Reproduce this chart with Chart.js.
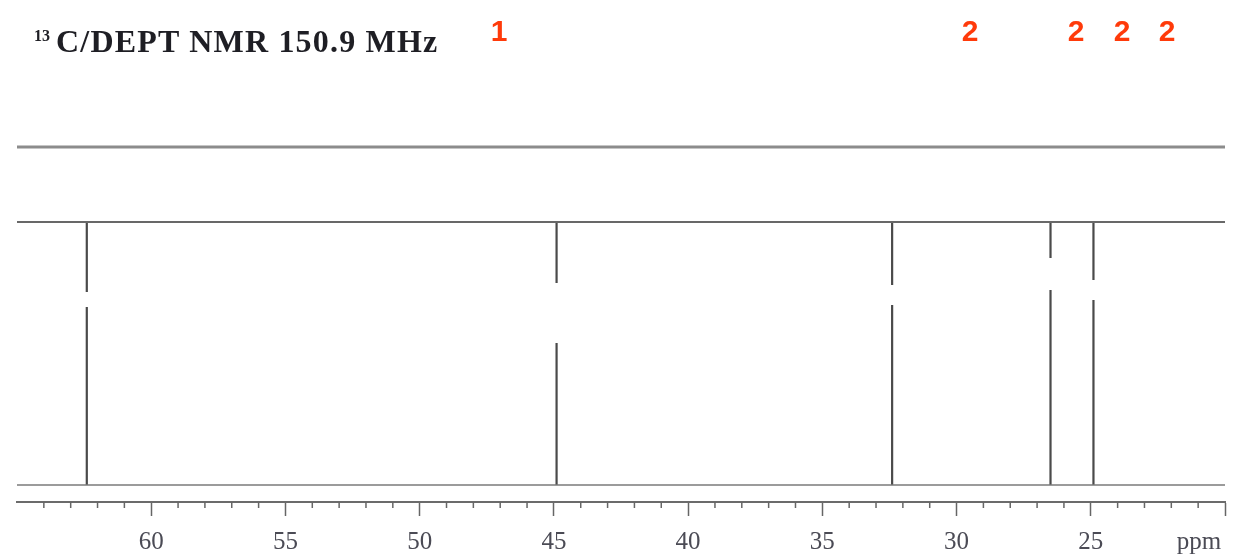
<!DOCTYPE html>
<html>
<head>
<meta charset="utf-8">
<title>13C/DEPT NMR 150.9 MHz</title>
<script src="https://cdn.jsdelivr.net/npm/chart.js@4"></script>
<style>
    html, body { margin: 0; padding: 0; background: #fff; }
    #wrap { position: relative; width: 1236px; height: 560px; overflow: hidden; }
    #nmr-chart { position: absolute; left: 0; top: 0; }
    .title {
        position: absolute; left: 34px; top: 25px;
        font-family: "Liberation Serif", "Times New Roman", serif;
        font-weight: bold; font-size: 32px; line-height: 32px;
        letter-spacing: 1.2px; color: #1e1e24; white-space: nowrap;
    }
    .title sup { font-size: 16px; vertical-align: 11px; line-height: 0; margin-right: 6px; letter-spacing: 0; }
    .count {
        position: absolute; top: 16px; width: 40px; text-align: center;
        font-family: "Liberation Sans", Arial, sans-serif;
        font-weight: bold; font-size: 30px; line-height: 30px; color: #ff3a0a;
    }
</style>
</head>
<body>
<div id="wrap">
    <canvas id="nmr-chart" width="1236" height="560"></canvas>
    <div class="title"><sup>13</sup>C/DEPT NMR 150.9 MHz</div>
</div>
<script>
// ppm window (axis runs high -> low)
const ppmMin = 20;
const ppmMax = 65;
const tickLabels = ['60', '55', '50', '45', '40', '35', '30', '25'];

// 13C peaks (ppm) and their heights, clipped at the DEPT trace
const peakShifts = [62.4, 44.9, 32.4, 26.5, 24.9];
const peakHeights = [1, 1, 1, 1, 1];
// erased bits of each peak line (intensity from / to)
const peakGaps = [[0.677, 0.734], [0.540, 0.768], [0.684, 0.760], [0.741, 0.863], [0.703, 0.779]];

// flat traces stacked above the 13C baseline
const baseLevel = 0;
const dept135Level = 1;
const dept90Level = 1.285;

// red labels over the spectrum
const countLabels = ['1', '2', '2', '2', '2'];
const countCenters = [499, 970, 1076, 1122, 1167];

countLabels.forEach((txt, i) => {
    const d = document.createElement('div');
    d.className = 'count';
    d.textContent = txt;
    d.style.left = (countCenters[i] - 20) + 'px';
    document.getElementById('wrap').appendChild(d);
});

function flat(level) {
    return [{ x: ppmMax, y: level }, { x: ppmMin, y: level }];
}

// vertical peak lines, broken where the gaps are
const peakPoints = [];
peakShifts.forEach((p, i) => {
    const [g0, g1] = peakGaps[i];
    peakPoints.push({ x: p, y: baseLevel });
    peakPoints.push({ x: p, y: g0 });
    peakPoints.push({ x: p, y: null });
    peakPoints.push({ x: p, y: g1 });
    peakPoints.push({ x: p, y: peakHeights[i] });
    peakPoints.push({ x: p, y: null });
});

const axisFont = { family: '"Liberation Serif", "Times New Roman", serif', size: 25 };

const minorTicks = {
    id: 'minorTicks',
    afterDraw(chart) {
        const s = chart.scales.x;
        const ctx = chart.ctx;
        ctx.save();
        ctx.strokeStyle = '#666';
        ctx.lineWidth = 1.5;
        for (let v = ppmMin + 1; v < ppmMax; v++) {
            if (v % 5 === 0) continue;
            const px = s.getPixelForValue(v);
            ctx.beginPath();
            ctx.moveTo(px, s.top);
            ctx.lineTo(px, s.top + 6);
            ctx.stroke();
        }
        ctx.fillStyle = '#4b4b55';
        ctx.font = axisFont.size + 'px ' + axisFont.family;
        ctx.textAlign = 'center';
        ctx.textBaseline = 'middle';
        ctx.fillText('ppm', s.right - 26, 542);
        ctx.restore();
    }
};

const line = (data, color, width) => ({
    data: data,
    borderColor: color,
    borderWidth: width,
    pointRadius: 0,
    fill: false,
    tension: 0,
    spanGaps: false
});

new Chart(document.getElementById('nmr-chart'), {
    type: 'line',
    data: {
        datasets: [
            line(flat(dept90Level), '#8c8c8c', 3),
            line(flat(dept135Level), '#686868', 2),
            line(flat(baseLevel), '#7a7a7a', 1.5),
            line(peakPoints, '#4a4a4a', 2.2)
        ]
    },
    options: {
        responsive: false,
        animation: false,
        layout: { padding: { left: 17, right: 10, top: 0, bottom: 0 } },
        plugins: { legend: { display: false }, tooltip: { enabled: false } },
        scales: {
            x: {
                type: 'linear',
                reverse: true,
                min: ppmMin,
                max: ppmMax,
                border: { display: true, color: '#6b6b6b', width: 2 },
                grid: {
                    drawOnChartArea: false,
                    drawTicks: true,
                    tickLength: 14,
                    tickWidth: 1.5,
                    tickColor: (c) => (c.tick && c.tick.value % 5 === 0 && c.tick.value !== ppmMax) ? '#666' : 'rgba(0,0,0,0)'
                },
                ticks: {
                    stepSize: 1,
                    autoSkip: false,
                    maxRotation: 0,
                    padding: 11,
                    color: '#4b4b55',
                    font: axisFont,
                    callback: (v) => tickLabels.includes(String(v)) ? String(v) : ''
                },
                afterFit: (s) => { s.height = 58; }
            },
            y: {
                display: false,
                min: -17 / 263,
                max: 485 / 263
            }
        }
    },
    plugins: [minorTicks]
});
</script>
</body>
</html>
